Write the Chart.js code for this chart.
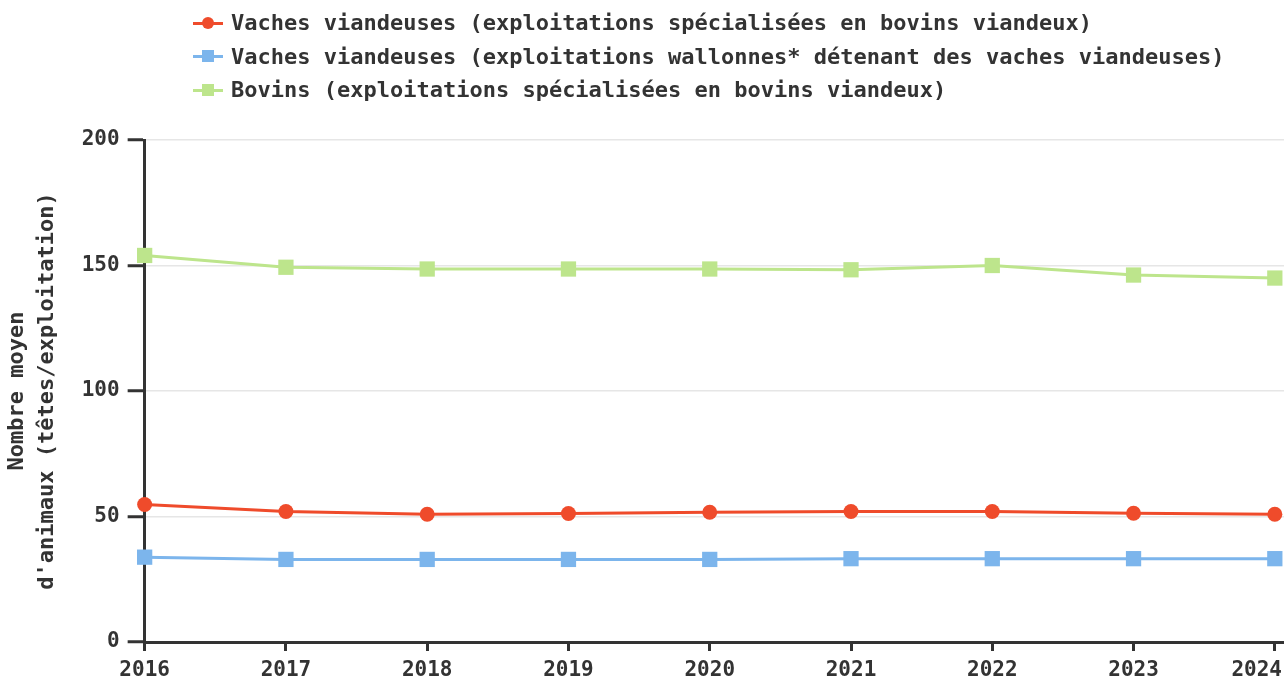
<!DOCTYPE html>
<html lang="fr">
<head>
<meta charset="utf-8">
<script src="https://cdn.jsdelivr.net/npm/chart.js@4.4.1/dist/chart.umd.min.js"></script>
<style>
  html,body{margin:0;padding:0;background:#fff;overflow:hidden;}
  #wrap{position:relative;width:1284px;height:682px;}
  #legend{position:absolute;left:193px;top:6px;font:bold 22px "DejaVu Sans Mono",monospace;color:#333;}
  #legend .row{height:33.5px;display:flex;align-items:center;white-space:nowrap;}
  #legend .mk{position:relative;width:30px;height:14px;margin-right:8px;flex:none;}
  #legend .mk i{position:absolute;left:0;right:0;top:6px;height:3px;}
  #legend .mk b{position:absolute;left:9px;top:1px;width:12px;height:12px;}
</style>
</head>
<body>
<div id="wrap">
  <canvas id="chart" width="1284" height="682"></canvas>
  <div id="legend"></div>
</div>
<script>
var years = [2016, 2017, 2018, 2019, 2020, 2021, 2022, 2023, 2024];
var vachesSpec = [54.8, 52.0, 50.9, 51.2, 51.7, 52.0, 52.0, 51.3, 50.9];
var vachesWal = [33.8, 32.9, 32.9, 32.9, 32.9, 33.2, 33.2, 33.2, 33.2];
var bovinsSpec = [154.0, 149.3, 148.6, 148.6, 148.6, 148.3, 150.0, 146.2, 145.0];
var yTicks = [0, 50, 100, 150, 200];

var seriesNames = [
  'Vaches viandeuses (exploitations spécialisées en bovins viandeux)',
  'Vaches viandeuses (exploitations wallonnes* détenant des vaches viandeuses)',
  'Bovins (exploitations spécialisées en bovins viandeux)'
];
var colors = ['#ef4b2b', '#7cb5ec', '#bde58c'];
var shapes = ['circle', 'rect', 'rect'];
var seriesValues = [vachesSpec, vachesWal, bovinsSpec];

var FONT = '"DejaVu Sans Mono", monospace';
var INK = '#333333';

function points(vals){
  return years.map(function(y, i){ return {x: y, y: vals[i]}; });
}

// keep the last tick label inside the canvas
var clampLabels = {
  id: 'clampLabels',
  beforeDraw: function(chart){
    var s = chart.scales.x;
    var items = s.getLabelItems();
    var ctx = chart.ctx;
    ctx.save();
    items.forEach(function(it){
      ctx.font = it.font.string;
      var w = ctx.measureText(String(it.label)).width;
      var tx = it.options.translation;
      if (tx[0] + w / 2 > chart.width - 2) tx[0] = chart.width - 2 - w / 2;
    });
    ctx.restore();
  }
};

var ds = seriesNames.map(function(name, i){
  var r = shapes[i] === 'circle' ? 7.5 : 10.8;
  return {
    label: name,
    data: points(seriesValues[i]),
    borderColor: colors[i],
    backgroundColor: colors[i],
    borderWidth: 3,
    pointStyle: shapes[i],
    pointRadius: r,
    pointHoverRadius: r,
    pointBorderWidth: 0,
    tension: 0,
    clip: false
  };
});

var chart = new Chart(document.getElementById('chart').getContext('2d'), {
  type: 'line',
  data: {datasets: ds},
  options: {
    responsive: false,
    animation: false,
    layout: {autoPadding: false, padding: {top: 140, left: 2, right: 0, bottom: -8}},
    plugins: {legend: {display: false}, tooltip: {enabled: false}},
    scales: {
      x: {
        type: 'linear',
        min: 2016,
        max: 2024.065,
        afterBuildTicks: function(s){
          s.ticks = years.map(function(y){ return {value: y}; });
        },
        afterFit: function(s){ s.paddingRight = 0; },
        border: {color: INK, width: 3},
        grid: {drawOnChartArea: false, tickColor: INK, tickWidth: 3, tickLength: 9},
        ticks: {
          color: INK, padding: 9, maxRotation: 0, autoSkip: false,
          font: {family: FONT, size: 21, weight: 'bold', lineHeight: 1},
          callback: function(v){ return String(v); }
        }
      },
      y: {
        min: 0,
        max: 200,
        afterBuildTicks: function(s){
          s.ticks = yTicks.map(function(v){ return {value: v}; });
        },
        border: {color: INK, width: 3},
        grid: {color: '#e6e6e6', lineWidth: 1.5, tickColor: INK, tickWidth: 3, tickLength: 17},
        ticks: {color: INK, padding: 8, font: {family: FONT, size: 21, weight: 'bold'}},
        title: {
          display: true,
          text: ['Nombre moyen', "d'animaux (têtes/exploitation)"],
          color: INK,
          padding: {top: 0, bottom: 11},
          font: {family: FONT, size: 22, weight: 'bold', lineHeight: 1.38}
        }
      }
    }
  },
  plugins: [clampLabels]
});

// legend rows built from the datasets
var legend = document.getElementById('legend');
chart.data.datasets.forEach(function(d, i){
  var row = document.createElement('div');
  row.className = 'row';
  var mk = document.createElement('span');
  mk.className = 'mk';
  var line = document.createElement('i');
  line.style.background = d.borderColor;
  var dot = document.createElement('b');
  dot.style.background = d.borderColor;
  if (shapes[i] === 'circle') dot.style.borderRadius = '50%';
  mk.appendChild(line);
  mk.appendChild(dot);
  var txt = document.createElement('span');
  txt.textContent = d.label;
  row.appendChild(mk);
  row.appendChild(txt);
  legend.appendChild(row);
});
</script>
</body>
</html>
